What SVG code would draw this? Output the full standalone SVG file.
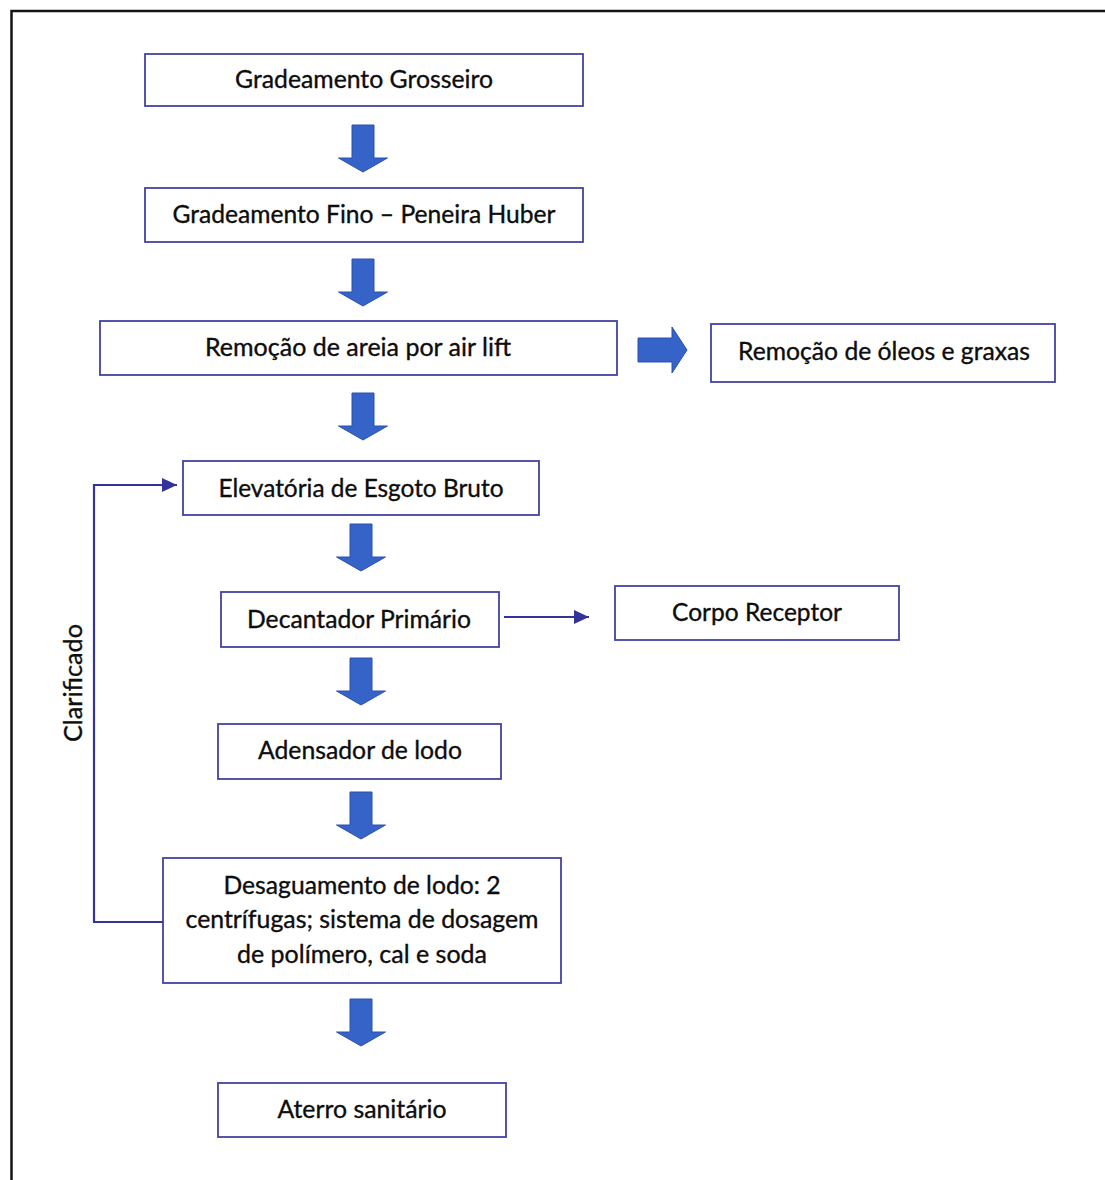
<svg xmlns="http://www.w3.org/2000/svg" width="1105" height="1180" viewBox="0 0 1105 1180">
  <style>
    .box { fill: #ffffff; stroke: #4343a6; stroke-width: 1.8; }
    .lbl { font-family: Lato, "Noto Sans", "DejaVu Sans", sans-serif; font-size: 25px; fill: #0d0d0d; stroke: #0d0d0d; stroke-width: 0.35; text-anchor: middle; }
    .blk { fill: #3563c8; stroke: #2d50b2; stroke-width: 1; }
    .wire { fill: none; stroke: #33339c; stroke-width: 2.2; }
  </style>
  <defs>
    <!-- downward block arrow, origin at top centre of the shaft -->
    <path id="down" class="blk" d="M-11,0 H11 V33 H24.5 L0,47 L-24.5,33 H-11 Z"/>
    <marker id="tip" markerWidth="15" markerHeight="14" refX="15" refY="7" orient="auto" markerUnits="userSpaceOnUse">
      <path d="M0,0 L15,7 L0,14 Z" fill="#33339c"/>
    </marker>
  </defs>

  <!-- outer frame -->
  <rect x="11.5" y="11" width="1200" height="1300" fill="none" stroke="#141414" stroke-width="2.5"/>

  <!-- process boxes -->
  <g id="gradeamento-grosseiro">
    <rect class="box" x="145" y="54" width="438" height="52"/>
    <text class="lbl" x="364" y="88" textLength="258" lengthAdjust="spacingAndGlyphs">Gradeamento Grosseiro</text>
  </g>
  <g id="gradeamento-fino">
    <rect class="box" x="145" y="188" width="438" height="54"/>
    <text class="lbl" x="364" y="223" textLength="383" lengthAdjust="spacingAndGlyphs">Gradeamento Fino – Peneira Huber</text>
  </g>
  <g id="remocao-areia">
    <rect class="box" x="100" y="321" width="517" height="54"/>
    <text class="lbl" x="358" y="356" textLength="306" lengthAdjust="spacingAndGlyphs">Remoção de areia por air lift</text>
  </g>
  <g id="remocao-oleos">
    <rect class="box" x="711" y="324" width="344" height="58"/>
    <text class="lbl" x="884" y="360" textLength="292" lengthAdjust="spacingAndGlyphs">Remoção de óleos e graxas</text>
  </g>
  <g id="elevatoria">
    <rect class="box" x="183" y="461" width="356" height="54"/>
    <text class="lbl" x="361" y="497" textLength="285" lengthAdjust="spacingAndGlyphs">Elevatória de Esgoto Bruto</text>
  </g>
  <g id="decantador">
    <rect class="box" x="221" y="592" width="278" height="55"/>
    <text class="lbl" x="359" y="628" textLength="224" lengthAdjust="spacingAndGlyphs">Decantador Primário</text>
  </g>
  <g id="corpo-receptor">
    <rect class="box" x="615" y="586" width="284" height="54"/>
    <text class="lbl" x="757" y="621" textLength="170" lengthAdjust="spacingAndGlyphs">Corpo Receptor</text>
  </g>
  <g id="adensador">
    <rect class="box" x="218" y="724" width="283" height="55"/>
    <text class="lbl" x="360" y="759" textLength="204" lengthAdjust="spacingAndGlyphs">Adensador de lodo</text>
  </g>
  <g id="desaguamento">
    <rect class="box" x="163" y="858" width="398" height="125"/>
    <text class="lbl" x="362" y="894" textLength="277" lengthAdjust="spacingAndGlyphs">Desaguamento de lodo: 2</text>
    <text class="lbl" x="362" y="928" textLength="353" lengthAdjust="spacingAndGlyphs">centrífugas; sistema de dosagem</text>
    <text class="lbl" x="362" y="963" textLength="250" lengthAdjust="spacingAndGlyphs">de polímero, cal e soda</text>
  </g>
  <g id="aterro">
    <rect class="box" x="218" y="1083" width="288" height="54"/>
    <text class="lbl" x="362" y="1118" textLength="169" lengthAdjust="spacingAndGlyphs">Aterro sanitário</text>
  </g>

  <!-- connectors -->
  <g id="connectors">
    <use href="#down" x="363" y="125"/>
    <use href="#down" x="363" y="259"/>
    <use href="#down" x="363" y="393"/>
    <use href="#down" x="361" y="524"/>
    <use href="#down" x="361" y="658"/>
    <use href="#down" x="361" y="792"/>
    <use href="#down" x="361" y="999"/>
    <path class="blk" d="M638,338 H672 V327 L687,350 L672,373 V362 H638 Z"/>
    <path class="wire" d="M504,617 H589" marker-end="url(#tip)"/>
    <path class="wire" d="M163,922 H94 V485 H177" marker-end="url(#tip)"/>
    <text class="lbl" transform="translate(82,683) rotate(-90)" x="0" y="0" textLength="118" lengthAdjust="spacingAndGlyphs">Clarificado</text>
  </g>
</svg>
